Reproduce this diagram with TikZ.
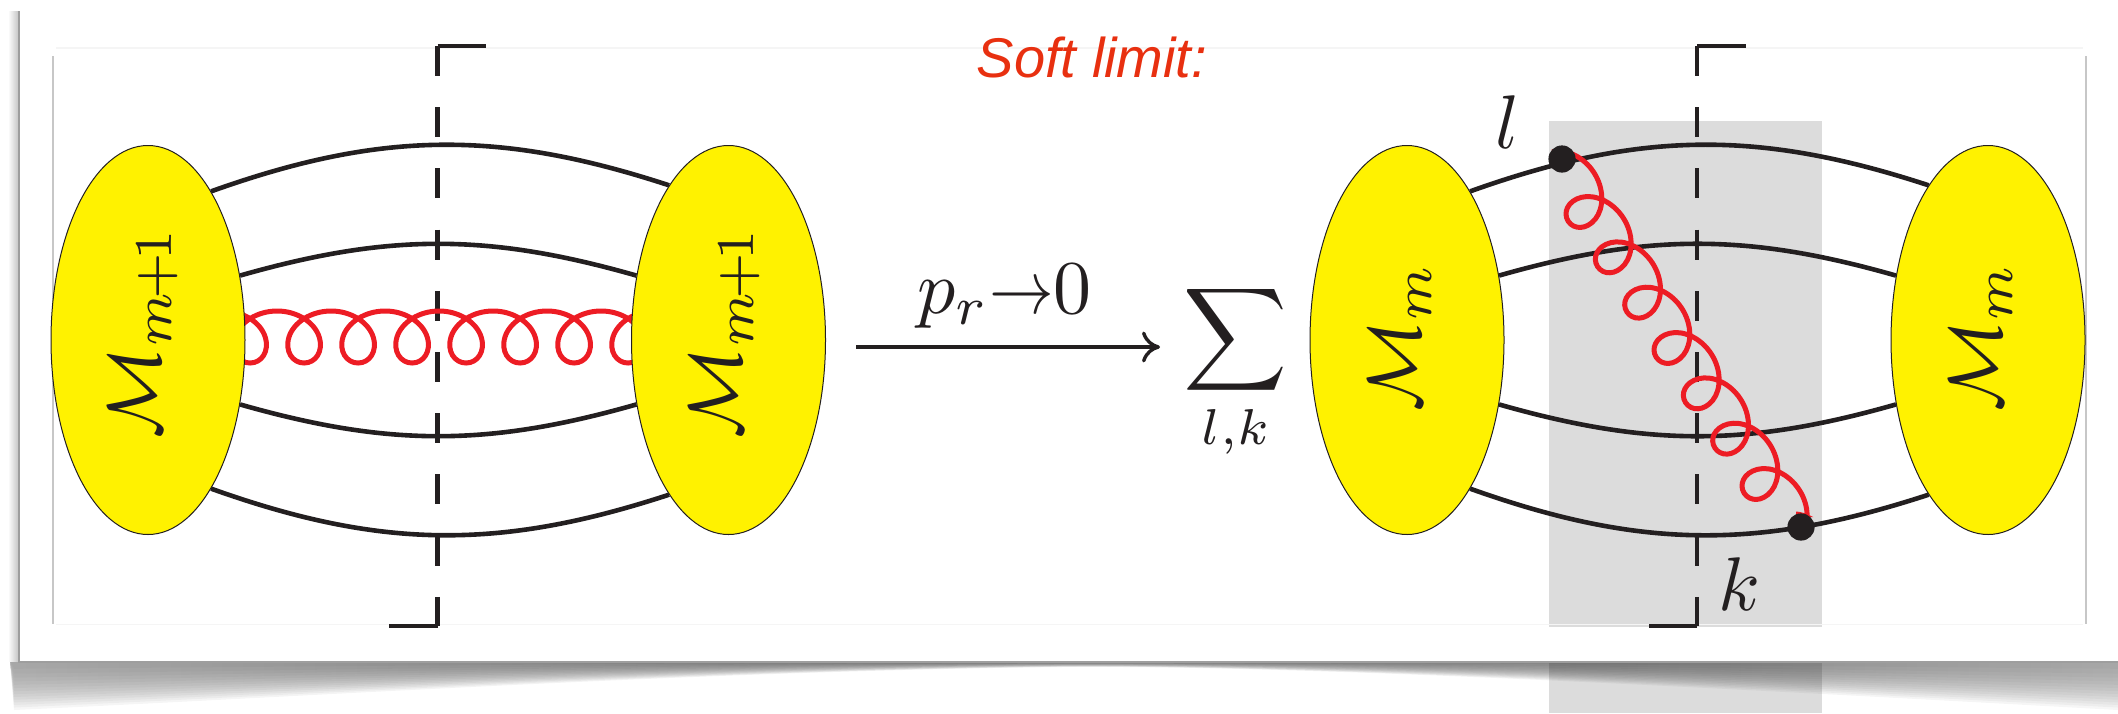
\documentclass[tikz,border=0pt]{standalone}
\usepackage{amsmath,amssymb}
\usepackage{fontspec}
\setsansfont{Liberation Sans}
\usepackage{tikz}
\usetikzlibrary{arrows.meta,positioning,shapes.geometric,backgrounds,decorations.pathmorphing}
\definecolor{BlobYellow}{RGB}{255,242,0}
\definecolor{LineBlack}{RGB}{35,31,32}
\definecolor{GluonRed}{RGB}{237,28,36}
\definecolor{TitleRed}{RGB}{232,48,16}
\definecolor{BandGray}{RGB}{220,220,220}
\newcommand{\bigmath}[1]{\scalebox{3.8}{$#1$}}

\begin{document}
\begin{tikzpicture}[
        x=0.5pt, y=-0.5pt,
        blob/.style={draw=LineBlack, line width=0.5pt, ellipse, fill=BlobYellow,
                     inner sep=0pt, minimum width=97pt, minimum height=194.5pt},
        amp/.style={rotate=90, inner sep=0pt, text=LineBlack},
        mathlab/.style={inner sep=0pt, text=LineBlack},
        vertex/.style={circle, fill=LineBlack, inner sep=0pt, minimum size=13.6pt},
        leg/.style={line width=2.3pt, LineBlack},
        cutdash/.style={line width=2.4pt, LineBlack, dash pattern=on 15pt off 15.6pt},
        cuttick/.style={line width=1.6pt, LineBlack},
        frameln/.style={line width=0.8pt, black!22},
        frameft/.style={line width=0.8pt, black!4},
        gluon/.style={line width=2.5pt, GluonRed, decorate,
                      decoration={coil, aspect=1.1, amplitude=13pt, segment length=27pt}}
      ]
        \useasboundingbox (0,0) rectangle (2118,713);
        \node[blob] (blobA) at (148,340)  {};
        \node[blob] (blobB) at (728.5,340) {};
        \node[blob] (blobC) at (1407,340) {};
        \node[blob] (blobD) at (1988,340) {};
        \node[amp] (labA) at (143,332) {\bigmath{\mathcal{M}_{m\mkern-2mu+\mkern-2mu1}}};
        \node[amp] (labB) at (724.5,332)   {\bigmath{\mathcal{M}_{m\mkern-2mu+\mkern-2mu1}}};
        \node[amp] (labC) at (1400,337)  {\bigmath{\mathcal{M}_{m}}};
        \node[amp] (labD) at (1981,337)  {\bigmath{\mathcal{M}_{m}}};
        \node[vertex] (vtxL) at (1562,159) {};
        \node[vertex] (vtxK) at (1801,527) {};
        \node[mathlab] (labL) at (1508,122) {\bigmath{l}};
        \node[mathlab] (labK) at (1739,584) {\bigmath{k}};
        \node[font=\sffamily\itshape\fontsize{28}{32}\selectfont, text=TitleRed, inner sep=0pt]
           (title) at (1092,57) {Soft limit:};
        \node[mathlab] (limit) at (1004.5,296) {\bigmath{p_r{\scalebox{.85}[1]{$\to$}}0}};
        \node[mathlab, anchor=north] (sum) at (1235.5,282)
           {\scalebox{3.6}{$\displaystyle\sum_{l,k}$}};
        \coordinate (arrowA) at (856,347);
        \coordinate (arrowB) at (1160,347);
        \draw[line width=1.7pt, LineBlack, -{Computer Modern Rightarrow[length=9pt,width=15.5pt]}]
           (arrowA) -- (arrowB);
        \begin{scope}[on background layer]
          \fill[BandGray] (1549,120.5) rectangle (1821.5,627);
          \fill[BandGray] (1549,661) rectangle (1821.5,713);
          \foreach \k in {1,...,14}{
            \pgfmathsetmacro{\dep}{pow(\k/14,0.7)}
            \shade[left color=black!60, right color=black!60, middle color=black, opacity=0.06]
              (10,661) -- (2118,661) -- (2118,{661+49*\dep})
              .. controls (1700,{661+26*\dep}) and (1300,{661+4*\dep}) .. (1060,{661+6*\dep})
              .. controls (700,{661+10*\dep}) and (300,{661+36*\dep}) .. (14,{661+49*\dep}) -- cycle;
          }
          \shade[left color=white, right color=black!22] (8,11) rectangle (18,661);
          \draw[line width=1pt, black!38] (19,11) -- (19,661.5) -- (2118,661.5);
          \draw[frameln] (53,56) -- (53,624);
          \draw[frameln] (2086,56) -- (2086,624);
          \draw[frameft] (56,48) -- (2083,48);
          \draw[frameft] (56,624.5) -- (2083,624.5);
          \draw[leg] (blobA.67.7) to[bend left=18.9] (blobB.111.6);
          \draw[leg] (blobA.35.4) to[bend left=15.9] (blobB.145);
          \draw[leg] (blobA.-35.4) to[bend right=15.9] (blobB.-145);
          \draw[leg] (blobA.-67.7) to[bend right=18.9] (blobB.-111.6);
          \draw[leg] (blobC.67.7) to[bend left=18.9] (blobD.111.6);
          \draw[leg] (blobC.35.4) to[bend left=15.9] (blobD.145);
          \draw[leg] (blobC.-35.4) to[bend right=15.9] (blobD.-145);
          \draw[leg] (blobC.-67.7) to[bend right=18.9] (blobD.-111.6);
          \coordinate (cutAt) at (437.5,46);
          \coordinate (cutAb) at (437.5,626);
          \coordinate (cutBt) at (1697,46);
          \coordinate (cutBb) at (1697,626);
          \draw[cutdash] (cutAt) -- (cutAb);
          \draw[cutdash] (cutBt) -- (cutBb);
          \draw[cuttick] (cutAt) -- ++(48.5,0);
          \draw[cuttick] (cutAb) -- ++(-48.5,0);
          \draw[cuttick] (cutBt) -- ++(48.5,0);
          \draw[cuttick] (cutBb) -- ++(-48.5,0);
          \coordinate (gluA) at (181,337);
          \coordinate (gluB) at (720,337);
          \coordinate (gluL) at (1552,152);
          \coordinate (gluK) at (1860,628);
          \draw[gluon] (gluA) -- (gluB);
          \begin{scope}
            \clip (1540,147) -- (1850,147) -- (1850,517) -- (1796,517) -- (1796,503)
              -- (1771,503) -- (1771,515) -- (1540,515) -- cycle;
            \draw[gluon, decoration={amplitude=12pt}] (gluL) -- (gluK);
          \end{scope}
        \end{scope}
      \end{tikzpicture}
\end{document}
